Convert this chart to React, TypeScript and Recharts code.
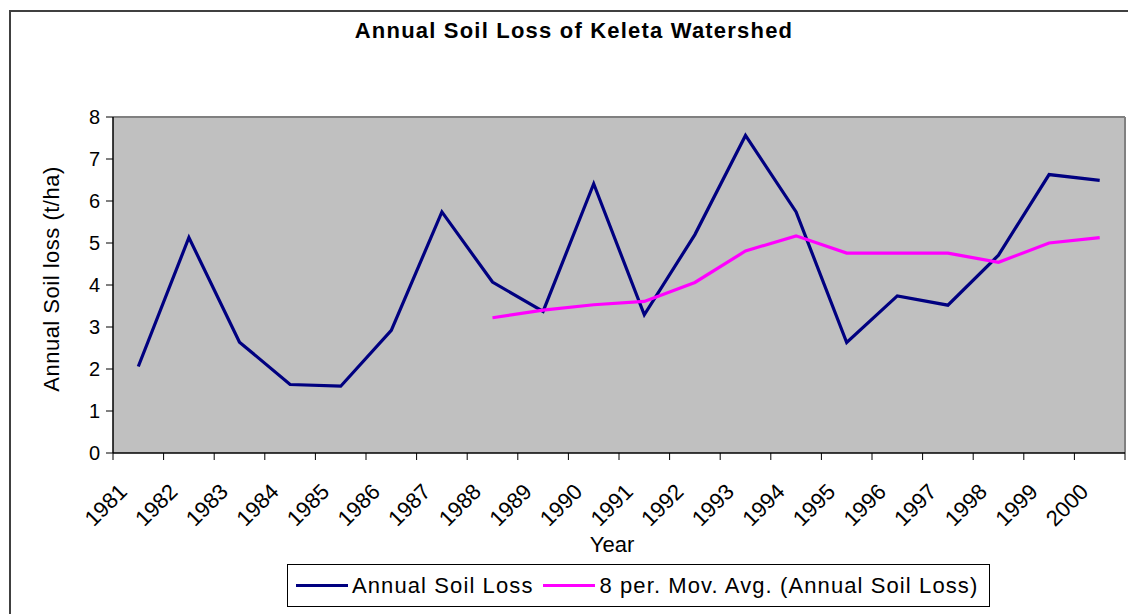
import {
  LineChart,
  Line,
  XAxis,
  YAxis,
  CartesianGrid,
  ReferenceLine,
  Legend,
} from "recharts";

const years = [
  "1981", "1982", "1983", "1984", "1985", "1986", "1987", "1988", "1989", "1990",
  "1991", "1992", "1993", "1994", "1995", "1996", "1997", "1998", "1999", "2000",
];

const soilLoss = [
  2.06, 5.13, 2.64, 1.63, 1.59, 2.92, 5.74, 4.07, 3.37, 6.41,
  3.29, 5.2, 7.56, 5.74, 2.63, 3.74, 3.52, 4.71, 6.63, 6.49,
];

const movAvg = [
  null, null, null, null, null, null, null, 3.22, 3.4, 3.53,
  3.61, 4.06, 4.81, 5.17, 4.76, 4.76, 4.76, 4.54, 5.0, 5.13,
];

const yTicks = [0, 1, 2, 3, 4, 5, 6, 7, 8];

const data = years.map((year, i) => ({
  year,
  loss: soilLoss[i],
  avg: movAvg[i],
}));

const FONT = '"Liberation Sans", Arial, sans-serif';

// label at the band centre, tick marks on the band edges (Excel style)
const YearTick = ({ x, y, payload, index }: any) => {
  const half = payload && payload.offset ? payload.offset : 25.3;
  const tx = x - 10;
  const ty = y + 40;
  return (
    <g>
      <line x1={x - half} x2={x - half} y1={y} y2={y + 7} stroke="#000" />
      {index === years.length - 1 && (
        <line x1={x + half} x2={x + half} y1={y} y2={y + 7} stroke="#000" />
      )}
      <text
        x={tx}
        y={ty}
        transform={`rotate(-45, ${tx}, ${ty})`}
        textAnchor="end"
        fontSize={22}
        fontFamily={FONT}
        fill="#000"
      >
        {payload.value}
      </text>
    </g>
  );
};

const yLabel = () => (
  <text
    x={59}
    y={279}
    transform="rotate(-90, 59, 279)"
    textAnchor="middle"
    fontSize={22}
    letterSpacing={0.5}
    fontFamily={FONT}
    fill="#000"
  >
    Annual Soil loss (t/ha)
  </text>
);

const xLabel = () => (
  <text x={612} y={552} textAnchor="middle" fontSize={22} fontFamily={FONT} fill="#000">
    Year
  </text>
);

const LegendBox = () => (
  <div
    style={{
      display: "flex",
      alignItems: "center",
      height: "100%",
      paddingLeft: 8,
      boxSizing: "border-box",
      fontFamily: FONT,
      fontSize: 22,
      letterSpacing: 1.1,
      color: "#000",
      whiteSpace: "nowrap",
    }}
  >
    <span style={{ display: "inline-block", width: 52, height: 3, background: "#000080" }} />
    <span style={{ marginLeft: 4 }}>Annual Soil Loss</span>
    <span
      style={{ display: "inline-block", width: 52, height: 3, background: "#FF00FF", marginLeft: 10 }}
    />
    <span style={{ marginLeft: 4 }}>8 per. Mov. Avg. (Annual Soil Loss)</span>
  </div>
);

export default function App() {
  return (
    <div
      style={{
        position: "fixed",
        left: 0,
        top: 0,
        width: 1128,
        height: 614,
        overflow: "hidden",
        background: "#fff",
      }}
    >
      <div
        style={{
          position: "absolute",
          left: 9,
          top: 10,
          width: 1200,
          height: 700,
          border: "2px solid #404040",
        }}
      />
      <svg style={{ position: "absolute", left: 0, top: 0 }} width={1128} height={60}>
        <text
          x={574}
          y={38}
          textAnchor="middle"
          fontSize={22}
          fontWeight="bold"
          letterSpacing={1.2}
          fontFamily={FONT}
          fill="#000"
        >
          Annual Soil Loss of Keleta Watershed
        </text>
      </svg>
      <div style={{ position: "absolute", left: 0, top: 0 }}>
        <LineChart
          width={1128}
          height={614}
          data={data}
          margin={{ top: 117, right: 3, left: 0, bottom: 81 }}
        >
          <CartesianGrid horizontal={false} vertical={false} fill="#C0C0C0" stroke="none" />
          <XAxis
            dataKey="year"
            scale="band"
            interval={0}
            height={80}
            tickLine={false}
            tickSize={0}
            tickMargin={0}
            axisLine={{ stroke: "#000", strokeWidth: 1.5 }}
            tick={<YearTick />}
            label={xLabel}
          />
          <YAxis
            width={113}
            domain={[0, 8]}
            ticks={yTicks}
            interval={0}
            tickSize={7}
            tickMargin={6}
            axisLine={{ stroke: "#000", strokeWidth: 1.5 }}
            tickLine={{ stroke: "#000" }}
            tick={{ fontSize: 20, fontFamily: FONT, fill: "#000" }}
            label={yLabel}
          />
          <ReferenceLine y={8} stroke="#808080" strokeWidth={2} />
          <ReferenceLine x="2000" position="end" stroke="#808080" strokeWidth={2} />
          <Legend
            verticalAlign="middle"
            align="center"
            content={<LegendBox />}
            wrapperStyle={{
              left: 287,
              top: 564,
              width: 703,
              height: 43,
              border: "1px solid #000",
              boxSizing: "border-box",
              background: "#fff",
            }}
          />
          <Line
            type="linear"
            dataKey="loss"
            name="Annual Soil Loss"
            stroke="#000080"
            strokeWidth={3.2}
            dot={false}
            isAnimationActive={false}
          />
          <Line
            type="linear"
            dataKey="avg"
            name="8 per. Mov. Avg. (Annual Soil Loss)"
            stroke="#FF00FF"
            strokeWidth={3.2}
            dot={false}
            isAnimationActive={false}
          />
        </LineChart>
      </div>
    </div>
  );
}
